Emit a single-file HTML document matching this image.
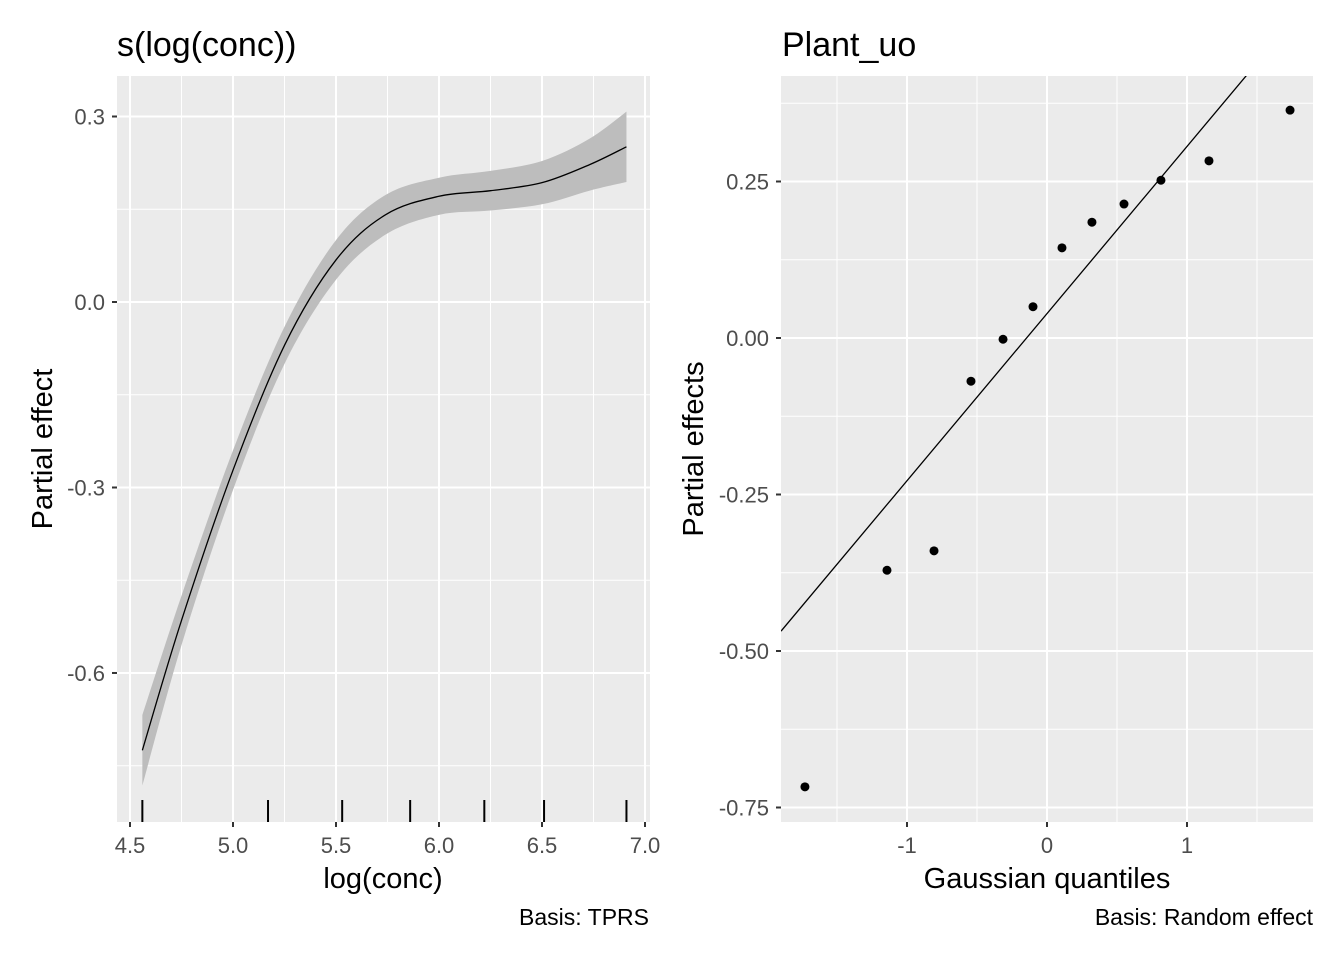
<!DOCTYPE html>
<html><head><meta charset="utf-8"><style>
html,body{margin:0;padding:0;background:#fff;}
svg{display:block;font-family:"Liberation Sans",Arial,sans-serif;}
</style></head><body>
<svg id="c" width="1344" height="960" viewBox="0 0 1344 960"></svg>
<script>
// ---- Left panel data: smooth s(log(conc)) ----
const smX = [4.56, 4.75, 5.0, 5.25, 5.5, 5.74, 6.0, 6.25, 6.5, 6.73, 6.91];
const smY = [-0.725, -0.515, -0.272, -0.07, 0.068, 0.141, 0.171, 0.18, 0.193, 0.222, 0.251];
const smSE = [0.057, 0.04, 0.032, 0.03, 0.032, 0.032, 0.03, 0.032, 0.035, 0.042, 0.057];
const rugX = [4.56, 5.17, 5.53, 5.86, 6.22, 6.51, 6.91];
const leftXTicks = [4.5, 5.0, 5.5, 6.0, 6.5, 7.0];
const leftXLabels = ["4.5","5.0","5.5","6.0","6.5","7.0"];
const leftYTicks = [0.3, 0.0, -0.3, -0.6];
const leftYLabels = ["0.3","0.0","-0.3","-0.6"];
// ---- Right panel data: random effect QQ ----
const qqX = [-1.729, -1.143, -0.807, -0.543, -0.314, -0.1, 0.107, 0.321, 0.55, 0.814, 1.157, 1.736];
const qqY = [-0.717, -0.371, -0.340, -0.069, -0.002, 0.05, 0.144, 0.185, 0.214, 0.252, 0.283, 0.364];
const qqLine = [0.039, 0.267]; // intercept, slope
const rightXTicks = [-1, 0, 1];
const rightXLabels = ["-1","0","1"];
const rightYTicks = [0.25, 0, -0.25, -0.5, -0.75];
const rightYLabels = ["0.25","0.00","-0.25","-0.50","-0.75"];

const NS="http://www.w3.org/2000/svg";
const svg=document.getElementById('c');
function mk(tag,attrs,parent){const e=document.createElementNS(NS,tag);for(const k in attrs)e.setAttribute(k,attrs[k]);(parent||svg).appendChild(e);return e;}

const L={x0:117,x1:650,y0:76,y1:822};
const lx=v=>130+(v-4.5)*206;
const ly=v=>302-v*618.3;
const R={x0:781,x1:1313,y0:76,y1:822};
const rx=v=>1047+v*140;
const ry=v=>338-v*626;

function panel(P,name){
  const r=mk('rect',{x:P.x0,y:P.y0,width:P.x1-P.x0,height:P.y1-P.y0,fill:'#ebebeb'});
  
  
}
function vgrid(P,x,w){const l=mk('line',{x1:x,x2:x,y1:P.y0,y2:P.y1,stroke:'#fff','stroke-width':w});}
function hgrid(P,y,w){const l=mk('line',{x1:P.x0,x2:P.x1,y1:y,y2:y,stroke:'#fff','stroke-width':w});}
function txt(x,y,s,size,anchor,fill,name,extra){const t=mk('text',Object.assign({x:x,y:y,'font-size':size,'text-anchor':anchor,fill:fill},extra||{}));t.textContent=s;return t;}

panel(L,'left-panel-background');
for(let i=0;i<leftXTicks.length-1;i++)vgrid(L,lx((leftXTicks[i]+leftXTicks[i+1])/2),1);
for(let i=0;i<leftYTicks.length-1;i++)hgrid(L,ly((leftYTicks[i]+leftYTicks[i+1])/2),1);
hgrid(L,ly(leftYTicks[leftYTicks.length-1]-0.15),1);
leftXTicks.forEach(v=>vgrid(L,lx(v),2));
leftYTicks.forEach(v=>hgrid(L,ly(v),2));

function smoothPath(pts){
  let d=`M${pts[0][0]},${pts[0][1]}`;
  for(let i=0;i<pts.length-1;i++){
    const p0=pts[Math.max(0,i-1)],p1=pts[i],p2=pts[i+1],p3=pts[Math.min(pts.length-1,i+2)];
    const c1=[p1[0]+(p2[0]-p0[0])/6,p1[1]+(p2[1]-p0[1])/6];
    const c2=[p2[0]-(p3[0]-p1[0])/6,p2[1]-(p3[1]-p1[1])/6];
    d+=` C${c1[0]},${c1[1]} ${c2[0]},${c2[1]} ${p2[0]},${p2[1]}`;
  }
  return d;
}
const upper=smX.map((x,i)=>[lx(x),ly(smY[i]+smSE[i])]);
const lower=smX.map((x,i)=>[lx(x),ly(smY[i]-smSE[i])]).reverse();
const bandD=smoothPath(upper)+' L'+smoothPath(lower).slice(1)+' Z';
const band=mk('path',{d:bandD,fill:'#bdbdbd'});


const sm=mk('path',{d:smoothPath(smX.map((x,i)=>[lx(x),ly(smY[i])])),fill:'none',stroke:'#000','stroke-width':1.3});


rugX.forEach(v=>{const l=mk('line',{x1:lx(v),x2:lx(v),y1:800,y2:822,stroke:'#000','stroke-width':2});
  
  });

leftXTicks.forEach((v,i)=>{mk('line',{x1:lx(v),x2:lx(v),y1:822,y2:827,stroke:'#333','stroke-width':2});
  txt(lx(v),853,leftXLabels[i],22,'middle','#4d4d4d','x-tick-label');});
leftYTicks.forEach((v,i)=>{mk('line',{x1:112,x2:117,y1:ly(v),y2:ly(v),stroke:'#333','stroke-width':2});
  txt(105,ly(v)+8,leftYLabels[i],22,'end','#4d4d4d','y-tick-label');});
txt(117,56,'s(log(conc))',34,'start','#000','left-panel-title');
txt(383,888,'log(conc)',29,'middle','#000','left-x-axis-title');
txt(52,449,'Partial effect',29,'middle','#000','left-y-axis-title',{transform:'rotate(-90 52 449)'});
txt(649,925,'Basis: TPRS',23,'end','#000','left-caption');

panel(R,'right-panel-background');
[-1.5,-0.5,0.5,1.5].forEach(v=>vgrid(R,rx(v),1));
[0.375,0.125,-0.125,-0.375,-0.625].forEach(v=>hgrid(R,ry(v),1));
rightXTicks.forEach(v=>vgrid(R,rx(v),2));
rightYTicks.forEach(v=>hgrid(R,ry(v),2));
const clip=mk('clipPath',{id:'rc'});mk('rect',{x:R.x0,y:R.y0,width:R.x1-R.x0,height:R.y1-R.y0},clip);
const xa=(R.x0-1047)/140, xb=(R.x1-1047)/140;
const ql=mk('line',{x1:rx(xa),y1:ry(qqLine[0]+qqLine[1]*xa),x2:rx(xb),y2:ry(qqLine[0]+qqLine[1]*xb),stroke:'#000','stroke-width':1.3,'clip-path':'url(#rc)'});


qqX.forEach((x,i)=>{const c=mk('circle',{cx:rx(x),cy:ry(qqY[i]),r:4.5,fill:'#000'});
  
  });
rightXTicks.forEach((v,i)=>{mk('line',{x1:rx(v),x2:rx(v),y1:822,y2:827,stroke:'#333','stroke-width':2});
  txt(rx(v),853,rightXLabels[i],22,'middle','#4d4d4d','x-tick-label');});
rightYTicks.forEach((v,i)=>{mk('line',{x1:776,x2:781,y1:ry(v),y2:ry(v),stroke:'#333','stroke-width':2});
  txt(769,ry(v)+8,rightYLabels[i],22,'end','#4d4d4d','y-tick-label');});
txt(782,56,'Plant_uo',34,'start','#000','right-panel-title');
txt(1047,888,'Gaussian quantiles',29,'middle','#000','right-x-axis-title');
txt(703,449,'Partial effects',29,'middle','#000','right-y-axis-title',{transform:'rotate(-90 703 449)'});
txt(1313,925,'Basis: Random effect',23,'end','#000','right-caption');
</script>
</body></html>
